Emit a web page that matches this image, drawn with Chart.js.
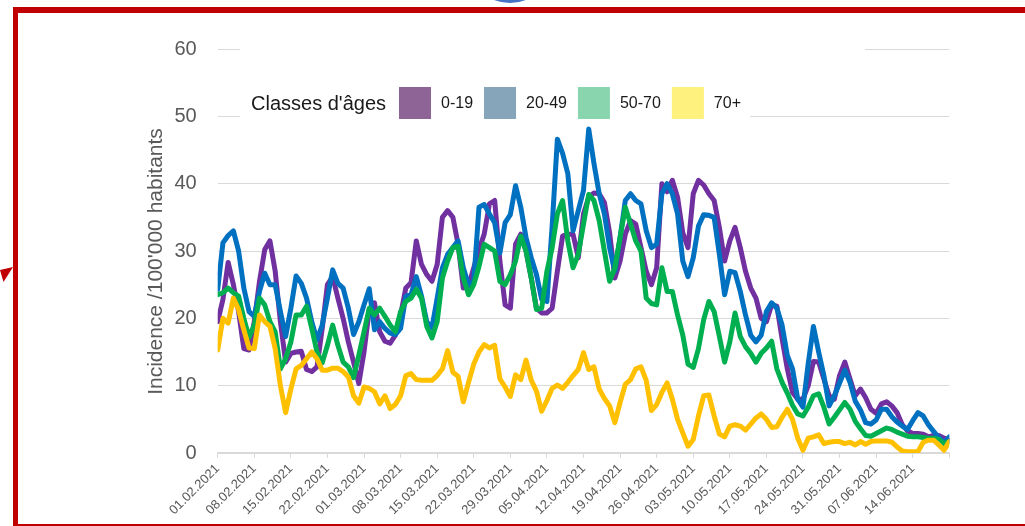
<!DOCTYPE html>
<html lang="fr">
<head>
<meta charset="utf-8">
<title>Incidence par classes d'âges</title>
<script src="https://cdn.jsdelivr.net/npm/chart.js@4.4.1/dist/chart.umd.min.js"></script>
<style>
  html, body { margin: 0; padding: 0; background: #ffffff; overflow: hidden; }
  #wrap { position: relative; width: 1025px; height: 526px; overflow: hidden; }
  #chart { position: absolute; left: 0; top: 0; }
  .frame { position: absolute; left: 13px; top: 7px; width: 1030px; height: 511px;
           border-top: 6px solid #C00000; border-left: 5.5px solid #C00000; border-bottom: 6px solid #C00000;
           pointer-events: none; }
  .dot { position: absolute; left: 466px; top: -85px; width: 88px; height: 88px; border-radius: 50%; background: #4472C4; }
  .arrow { position: absolute; left: 0; top: 265px; width: 14px; height: 18px; background: #C00000;
           clip-path: polygon(0 5px, 13px 2px, 3.5px 17px); }
</style>
</head>
<body>
<div id="wrap">
  <canvas id="chart" width="1025" height="526"></canvas>
  <div class="dot"></div>
  <div class="frame"></div>
  <div class="arrow"></div>
</div>
<script>
// ---- Data (daily values from 01.02.2021 to 21.06.2021) ----
const ageClasses = ['0-19', '20-49', '50-70', '70+'];
const weekLabels = ['01.02.2021','08.02.2021','15.02.2021','22.02.2021','01.03.2021','08.03.2021','15.03.2021',
  '22.03.2021','29.03.2021','05.04.2021','12.04.2021','19.04.2021','26.04.2021','03.05.2021','10.05.2021',
  '17.05.2021','24.05.2021','31.05.2021','07.06.2021','14.06.2021'];
const yTicks = [0, 10, 20, 30, 40, 50, 60];
const yTitle = "Incidence /100'000 habitants";
const legendTitle = "Classes d'âges";

const age0_19 = [
  19.5, 22.8, 28.3, 25.0, 21.0, 15.5, 15.3, 19.5, 25.5, 30.2,
  31.5, 27.0, 19.5, 13.5, 14.8, 15.0, 15.1, 12.4, 12.1, 12.8,
  18.5, 25.0, 26.2, 23.0, 20.0, 16.5, 13.5, 10.3, 15.0, 21.3,
  22.3, 18.0, 16.6, 16.3, 17.5, 20.5, 24.5, 25.3, 31.5, 28.0,
  26.5, 25.5, 28.0, 35.0, 36.0, 35.0, 31.0, 24.5, 24.8, 27.5,
  30.2, 32.5, 37.0, 37.5, 28.5, 22.0, 21.5, 31.0, 32.5, 30.0,
  26.0, 21.5, 20.8, 20.8, 21.5, 27.0, 32.2, 32.5, 32.5, 29.0,
  35.5, 38.0, 38.6, 38.5, 37.2, 32.7, 26.0, 28.5, 32.5, 34.5,
  34.0, 30.5, 27.0, 25.0, 27.5, 40.0, 38.8, 40.5, 38.0, 32.7,
  30.5, 38.5, 40.5, 39.8, 38.5, 37.5, 33.5, 28.5, 31.5, 33.5,
  30.5, 27.0, 24.5, 23.0, 20.0, 19.5, 22.0, 21.8, 17.0, 12.5,
  9.0, 8.0, 8.0, 10.0, 13.6, 13.5, 11.0, 8.5, 8.0, 11.5,
  13.5, 11.0, 8.5, 9.5, 8.2, 6.5, 5.9, 7.3, 7.6, 7.0,
  6.0, 4.2, 3.3, 2.9, 2.9, 2.8, 2.4, 2.6, 2.6, 2.2, 1.9
];
const age20_49 = [
  24.3, 31.2, 32.3, 33.0, 30.0, 24.5, 21.0, 20.3, 24.0, 26.7,
  25.0, 25.0, 21.0, 17.3, 21.5, 26.3, 25.2, 23.0, 19.5, 16.8,
  19.0, 23.0, 27.2, 25.2, 24.5, 21.5, 17.6, 19.5, 22.0, 24.4,
  18.3, 19.5, 18.5, 17.8, 17.6, 18.5, 23.3, 23.5, 26.2, 23.3,
  19.5, 18.6, 23.0, 27.5, 29.5, 30.5, 31.5, 27.5, 25.0, 25.5,
  36.5, 36.9, 35.5, 34.2, 29.7, 34.2, 35.4, 39.7, 36.5, 32.0,
  29.0, 26.5, 22.8, 22.5, 33.7, 46.6, 44.5, 41.5, 33.0, 36.0,
  39.0, 48.1, 43.0, 38.5, 35.5, 30.5, 27.0, 32.0, 37.5, 38.5,
  37.5, 37.0, 33.0, 30.5, 31.0, 38.5, 40.0, 38.5, 35.5, 28.5,
  26.2, 29.0, 33.7, 35.4, 35.3, 35.0, 29.5, 23.5, 27.0, 26.8,
  24.0, 20.5, 17.5, 16.5, 17.5, 21.0, 22.3, 21.5, 19.0, 14.5,
  12.5, 8.0, 6.8, 13.3, 18.8, 15.0, 11.5, 7.0, 8.5, 10.4,
  12.3, 10.5, 7.7, 6.4, 4.5, 4.3, 4.9, 6.5, 6.5, 5.4,
  4.6, 4.0, 3.5, 4.8, 6.0, 5.5, 4.2, 3.2, 2.3, 1.5, 2.4
];
const age50_70 = [
  23.5, 23.8, 24.5, 23.8, 23.3, 20.0, 17.2, 19.0, 23.0, 22.0,
  19.5, 18.0, 12.5, 14.0, 16.5, 20.5, 20.5, 21.8, 18.5, 15.0,
  13.4, 16.0, 19.0, 16.0, 13.5, 12.8, 11.2, 14.5, 18.0, 21.5,
  20.5, 21.5, 20.3, 19.0, 18.0, 21.0, 22.5, 23.0, 24.3, 23.0,
  18.8, 17.1, 19.5, 26.0, 28.5, 30.5, 30.7, 26.0, 23.5, 25.0,
  27.7, 31.0, 30.5, 30.0, 25.5, 25.0, 26.5, 28.5, 32.2, 30.0,
  26.0, 21.3, 21.5, 27.0, 30.5, 35.5, 37.5, 31.5, 27.5, 29.5,
  34.0, 38.4, 37.5, 34.5, 30.0, 25.5, 27.5, 32.0, 36.5, 34.0,
  31.5, 30.0, 23.0, 22.2, 22.0, 27.5, 24.0, 24.0, 20.5, 17.5,
  13.2, 12.7, 15.5, 19.8, 22.5, 21.0, 17.3, 13.5, 16.5, 20.8,
  17.3, 15.8, 14.8, 13.5, 14.8, 15.6, 16.6, 12.5, 10.5, 8.9,
  7.1, 5.8, 5.5, 6.8, 8.5, 8.8, 6.8, 4.3, 5.3, 6.4,
  7.5, 6.5, 4.7, 3.6, 2.6, 2.5, 2.9, 3.3, 3.7, 3.5,
  3.1, 2.8, 2.5, 2.4, 2.4, 2.3, 2.2, 2.2, 2.0, 1.4, 1.7
];
const age70plus = [
  15.3, 20.0, 19.3, 23.0, 21.3, 18.3, 15.6, 15.5, 20.5, 19.5,
  18.8, 15.5, 10.0, 6.0, 9.5, 12.5, 13.0, 14.0, 15.0, 14.0,
  12.3, 12.3, 12.6, 12.6, 12.1, 11.3, 8.5, 7.4, 9.8, 9.6,
  9.1, 7.3, 8.5, 6.6, 7.2, 8.5, 11.5, 11.8, 10.9, 10.8,
  10.8, 10.8, 11.5, 12.5, 15.2, 12.0, 11.4, 7.6, 10.5, 13.2,
  15.0, 16.1, 15.6, 16.0, 11.0, 9.8, 8.4, 11.6, 10.9, 13.8,
  10.8, 9.2, 6.2, 7.8, 9.6, 10.1, 9.6, 10.5, 11.5, 12.4,
  14.9, 12.4, 12.8, 9.5, 8.1, 7.0, 4.5, 7.5, 10.2, 10.9,
  12.5, 12.8, 10.8, 6.3, 7.2, 9.0, 10.4, 8.0, 5.0, 3.0,
  1.0, 2.0, 5.5, 8.5, 8.6, 5.5, 2.8, 2.4, 4.0, 4.2,
  4.0, 3.4, 4.3, 5.2, 5.8, 5.0, 3.8, 3.9, 5.3, 6.5,
  5.0, 2.2, 0.4, 2.2, 2.4, 2.7, 1.4, 1.6, 1.7, 1.7,
  1.4, 1.6, 1.2, 1.7, 1.3, 1.7, 1.8, 1.8, 1.8, 1.6,
  0.9, 0.3, 0.2, 0.2, 0.2, 1.6, 1.9, 1.9, 1.2, 0.4, 1.7
];

const seriesValues = [age0_19, age20_49, age50_70, age70plus];
const lineColors = ['#7030A0', '#0070C0', '#00B050', '#FFC000'];
const legendColors = ['#8E6496', '#86A5BA', '#88D5AE', '#FEF17D'];

// ---- Chart ----
const FONT = '"Liberation Sans", Arial, sans-serif';
const lastDay = age0_19.length - 1;

const datasets = ageClasses.map((name, k) => ({
  label: name,
  data: seriesValues[k].map((v, i) => ({ x: i, y: v })),
  borderColor: lineColors[k],
  backgroundColor: lineColors[k],
  borderWidth: 5,
  pointRadius: 0,
  pointHoverRadius: 0,
  tension: 0,
  fill: false,
  borderJoinStyle: 'round',
  borderCapStyle: 'round',
  order: ageClasses.length - k
}));

const decorPlugin = {
  id: 'decor',
  beforeDatasetsDraw(chart) {
    const ctx = chart.ctx;
    ctx.save();
    ctx.fillStyle = '#ffffff';
    ctx.fillRect(240, 40, 625, 18);
    ctx.fillRect(240, 58, 510, 66);
    ctx.restore();
  },
  afterDraw(chart) {
    const ctx = chart.ctx;
    ctx.save();
    // y-axis title
    ctx.translate(156, 261.5);
    ctx.rotate(-Math.PI / 2);
    ctx.font = '21px ' + FONT;
    ctx.fillStyle = '#595959';
    ctx.textAlign = 'center';
    ctx.textBaseline = 'middle';
    ctx.fillText(yTitle, 0, 0);
    ctx.restore();

    // legend
    ctx.save();
    ctx.textBaseline = 'middle';
    ctx.textAlign = 'left';
    ctx.fillStyle = '#1a1a1a';
    ctx.font = '20px ' + FONT;
    ctx.fillText(legendTitle, 251, 104);
    let x = 399;
    ctx.font = '16px ' + FONT;
    ageClasses.forEach((name, k) => {
      ctx.fillStyle = legendColors[k];
      ctx.fillRect(x, 87, 32, 32);
      ctx.fillStyle = '#1a1a1a';
      ctx.fillText(name, x + 42, 104);
      x += 42 + ctx.measureText(name).width + 11;
    });
    ctx.restore();
  }
};

new Chart(document.getElementById('chart'), {
  type: 'line',
  data: { datasets },
  plugins: [decorPlugin],
  options: {
    responsive: false,
    devicePixelRatio: 1,
    animation: false,
    layout: { padding: { left: 0, top: 49, right: 75.7, bottom: 0 } },
    plugins: { legend: { display: false }, tooltip: { enabled: false } },
    scales: {
      x: {
        type: 'linear',
        min: 0,
        max: lastDay,
        afterFit(scale) { scale.height = 73; },
        ticks: {
          stepSize: 7,
          autoSkip: false,
          maxRotation: 45,
          minRotation: 45,
          padding: 3,
          color: '#595959',
          font: { family: FONT, size: 13 },
          callback: (value) => {
            const idx = Math.round(value / 7);
            return idx < weekLabels.length ? weekLabels[idx] : '';
          }
        },
        grid: { drawOnChartArea: false, drawTicks: true, tickLength: 5, color: '#D9D9D9', lineWidth: 1 },
        border: { display: true, color: '#D9D9D9', width: 1.5 }
      },
      y: {
        min: yTicks[0],
        max: yTicks[yTicks.length - 1],
        afterFit(scale) { scale.width = 217.7; },
        afterBuildTicks(scale) { scale.ticks = yTicks.map(v => ({ value: v })); },
        ticks: {
          padding: 21,
          color: '#595959',
          font: { family: FONT, size: 20 }
        },
        grid: { color: '#D9D9D9', drawTicks: false, lineWidth: 1 },
        border: { display: false }
      }
    }
  }
});
</script>
</body>
</html>
